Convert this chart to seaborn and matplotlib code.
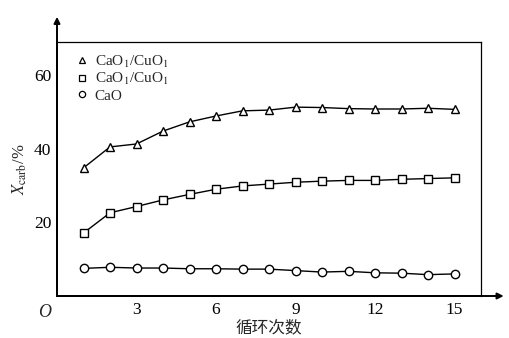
import numpy as np
import pandas as pd
import matplotlib
matplotlib.use('Agg')
import matplotlib.pyplot as plt
from matplotlib.lines import Line2D
import seaborn as sns

# cycle number and carbonation conversion (%)
cycles = list(range(1, 16))
tri_vals = [34.8, 40.5, 41.3, 44.8, 47.3, 48.9, 50.3, 50.5, 51.3, 51.2, 50.9, 50.8, 50.8, 51.0, 50.7]
sq_vals = [17.1, 22.6, 24.3, 26.1, 27.6, 29.0, 29.9, 30.4, 30.9, 31.2, 31.4, 31.4, 31.7, 31.9, 32.1]
circ_vals = [7.5, 7.8, 7.6, 7.6, 7.4, 7.4, 7.3, 7.3, 6.9, 6.5, 6.7, 6.3, 6.2, 5.8, 6.0]
labels = ['CaO$_1$/CuO$_1$', 'CaO$_1$/CuO$_1$', 'CaO']
markers = ['^', 's', 'o']
xticks = [3, 6, 9, 12, 15]
yticks = [20, 40, 60]

sns.set_style('white')
plt.rcParams['font.family'] = ['Liberation Serif', 'Noto Sans CJK SC']
plt.rcParams['mathtext.fontset'] = 'stix'

fig = plt.figure(figsize=(5.09, 3.38), dpi=100)
ax = fig.add_axes([57 / 509, 1 - 296 / 338, (481 - 57) / 509, (296 - 42) / 338])

for vals, lab, m in zip([tri_vals, sq_vals, circ_vals], labels, markers):
    df = pd.DataFrame({'cycle': cycles, 'x': vals})
    sns.lineplot(data=df, x='cycle', y='x', ax=ax, color='black', lw=1.0,
                 marker=m, markersize=6, markerfacecolor='white',
                 markeredgecolor='black', markeredgewidth=1.0)

ax.set_xlim(0, 16)
ax.set_ylim(0, 69)
ax.set_xticks(xticks)
ax.set_yticks(yticks)
ax.tick_params(direction='in', length=4, width=1.0, labelsize=12.5, colors='black', pad=4)
for s in ax.spines.values():
    s.set_color('black')
    s.set_linewidth(0.9)
ax.spines['left'].set_linewidth(1.4)
ax.spines['bottom'].set_linewidth(1.4)

# axis arrows extending beyond the frame
ax.annotate('', xy=(1.06, 0), xytext=(0, 0), xycoords='axes fraction',
            arrowprops=dict(arrowstyle='-|>', color='black', lw=1.4, mutation_scale=9),
            annotation_clip=False)
ax.annotate('', xy=(0, 1.11), xytext=(0, 0), xycoords='axes fraction',
            arrowprops=dict(arrowstyle='-|>', color='black', lw=1.4, mutation_scale=9),
            annotation_clip=False)

ax.text(-0.015, -0.03, 'O', transform=ax.transAxes, ha='right', va='top',
        fontsize=13, style='italic')

ax.set_xlabel('循环次数', fontsize=12, labelpad=2, fontweight='medium')
ax.set_ylabel('$X_{\\mathrm{carb}}$/%', fontsize=12, labelpad=4)

handles = [Line2D([], [], ls='none', marker=m, markersize=4.5, markerfacecolor='white',
                  markeredgecolor='black', markeredgewidth=0.9) for m in markers]
ax.legend(handles, labels, loc='upper left', bbox_to_anchor=(0.02, 0.99), frameon=False,
          fontsize=11, handletextpad=0.3, labelspacing=0.1, borderaxespad=0.2,
          handlelength=1.0)

fig.savefig('out.png', dpi=100)
